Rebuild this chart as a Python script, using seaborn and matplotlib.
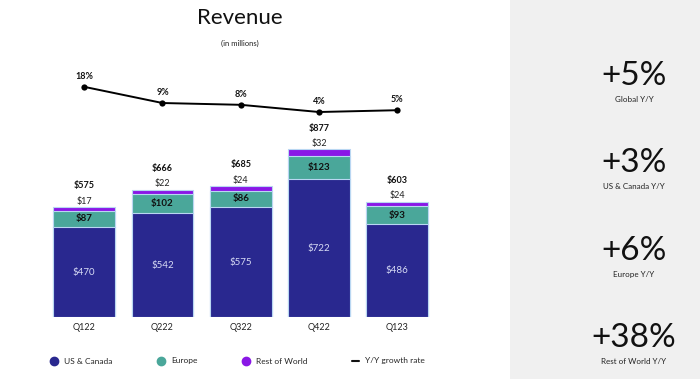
import matplotlib
matplotlib.use("Agg")
import matplotlib.pyplot as plt
from matplotlib.lines import Line2D
from matplotlib.patches import Rectangle
import numpy as np
import pandas as pd
import seaborn as sns

# data
quarters = ["Q122", "Q222", "Q322", "Q422", "Q123"]
us_canada = [470, 542, 575, 722, 486]
europe = [87, 102, 86, 123, 93]
rest_of_world = [17, 22, 24, 32, 24]
totals = [575, 666, 685, 877, 603]
growth = [18, 9, 8, 4, 5]

kpi_values = ["+5%", "+3%", "+6%", "+38%"]
kpi_labels = ["Global Y/Y", "US & Canada Y/Y", "Europe Y/Y", "Rest of World Y/Y"]

c_us = "#29288f"
c_eu = "#4aa79a"
c_row = "#8a17e6"
c_edge = "#b9d7f2"

sns.set_theme(style="white")
plt.rcParams["font.family"] = ["Lato", "DejaVu Sans"]

df = pd.DataFrame({"quarter": quarters, "us": us_canada, "eu": europe,
                   "row": rest_of_world})
df["us_eu"] = df["us"] + df["eu"]
df["all"] = df["us_eu"] + df["row"]

fig = plt.figure(figsize=(7, 3.79), dpi=100)
fig.patch.set_facecolor("white")
fig.patches.append(Rectangle((510 / 700, 0), 190 / 700, 1, transform=fig.transFigure,
                             facecolor="#f0f0f0", edgecolor="none", zorder=0))

ax = fig.add_axes([45 / 700, 62 / 379, 391.5 / 700, 257 / 379])
ax.patch.set_alpha(0)

# stacked bars: draw cumulative totals, then overlay the lower layers
for col, color in [("all", c_row), ("us_eu", c_eu), ("us", c_us)]:
    sns.barplot(data=df, x="quarter", y=col, color=color, width=0.79,
                edgecolor=c_edge, linewidth=0.8, saturation=1, ax=ax)

ax.set_ylim(0, 1345)
ax.set_xlim(-0.5, 4.5)
ax.set_xlabel("")
ax.set_ylabel("")
ax.set_yticks([])
ax.tick_params(axis="x", length=0, labelsize=6.5, pad=4, colors="#222222")
sns.despine(ax=ax, left=True, bottom=True)

for i in range(len(quarters)):
    ax.text(i, us_canada[i] / 2, f"${us_canada[i]}", ha="center", va="center",
            color="#d8dcf5", fontsize=7)
    ax.text(i, us_canada[i] + europe[i] / 2, f"${europe[i]}", ha="center",
            va="center", color="#111111", fontsize=7, fontweight="bold")
    ax.text(i, totals[i] + 8, f"${rest_of_world[i]}", ha="center", va="bottom",
            color="#222222", fontsize=6.5)
    ax.text(i, totals[i] + 88, f"${totals[i]}", ha="center", va="bottom",
            color="#111111", fontsize=6.5, fontweight="bold")

ax2 = ax.twinx()
ax2.patch.set_alpha(0)
sns.lineplot(x=np.arange(len(quarters)), y=growth, color="black", linewidth=1.4,
             marker="o", markersize=4.5, markeredgewidth=0, ax=ax2)
ax2.set_ylim(-109.9, 32.9)
ax2.set_yticks([])
ax2.set_xlim(-0.5, 4.5)
for i, g in enumerate(growth):
    ax2.text(i, g + 3.2, f"{g}%", ha="center", va="bottom", fontsize=6.5,
             fontweight="bold", color="#111111")
sns.despine(ax=ax2, left=True, bottom=True, right=True)

fig.text(240 / 700, 1 - 18 / 379, "Revenue", ha="center", va="center",
         fontsize=16, color="#111111")
fig.text(240 / 700, 1 - 43 / 379, "(in millions)", ha="center", va="center",
         fontsize=5.5, color="#222222")

handles = [
    Line2D([], [], marker="o", linestyle="none", color=c_us, markersize=6),
    Line2D([], [], marker="o", linestyle="none", color=c_eu, markersize=6),
    Line2D([], [], marker="o", linestyle="none", color=c_row, markersize=6),
    Line2D([], [], color="#111111", linewidth=1.5),
]
fig.legend(handles, ["US & Canada", "Europe", "Rest of World", "Y/Y growth rate"],
           loc="center", bbox_to_anchor=(238 / 700, 1 - 361 / 379), ncol=4,
           frameon=False, fontsize=6, handlelength=0.8, handletextpad=0.8,
           columnspacing=5.4)

kpi_y = [76, 163, 251, 338]
for val, lab, y in zip(kpi_values, kpi_labels, kpi_y):
    fig.text(634 / 700, 1 - y / 379, val, ha="center", va="center", fontsize=24,
             color="#111111")
    fig.text(634 / 700, 1 - (y + 23.5) / 379, lab, ha="center", va="center",
             fontsize=5.8, color="#222222")

fig.savefig("out.png", dpi=100, facecolor=fig.get_facecolor())
